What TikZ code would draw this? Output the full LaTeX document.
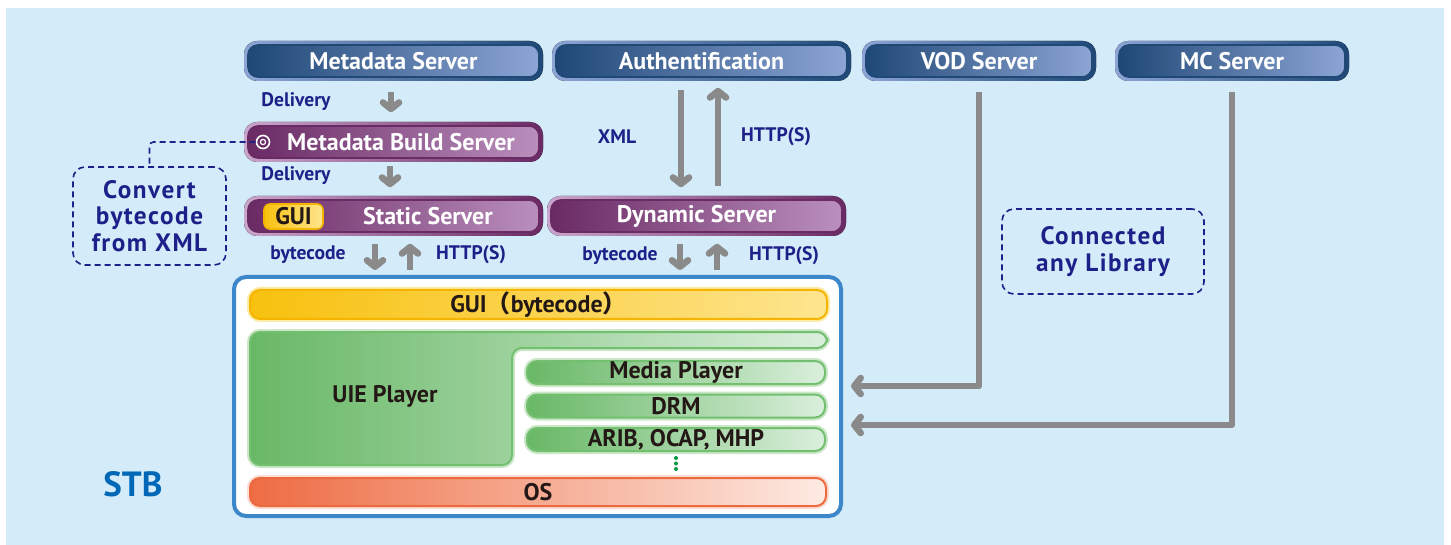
\documentclass[tikz,border=0pt]{standalone}
\usepackage{fontspec}
\setmainfont{PT Sans}
\newfontfamily\notefont[LetterSpace=6]{PT Sans}
\newfontfamily\cjk{Noto Sans CJK JP}
\usetikzlibrary{arrows.meta,backgrounds}

\definecolor{bgblue}{HTML}{D4EBF9}
\definecolor{navy}{HTML}{1D2088}
\definecolor{svDark}{HTML}{1F4876}
\definecolor{svLight}{HTML}{8CA5D5}
\definecolor{puDark}{HTML}{6A2A64}
\definecolor{puLight}{HTML}{BA8FBD}
\definecolor{puRing}{HTML}{C9A6CB}
\definecolor{flowgrey}{HTML}{8A8A8A}
\definecolor{stbblue}{HTML}{3B87C9}
\definecolor{stbtext}{HTML}{0068B7}
\definecolor{ink}{HTML}{231815}
\definecolor{guiL}{HTML}{F8C10E}
\definecolor{guiR}{HTML}{FEE58F}
\definecolor{guiLine}{HTML}{F4B400}
\definecolor{guiRing}{HTML}{FDEBA8}
\definecolor{grL}{HTML}{68B866}
\definecolor{grR}{HTML}{DAEFDC}
\definecolor{grLine}{HTML}{72C06F}
\definecolor{grRing}{HTML}{CBE7C8}
\definecolor{osL}{HTML}{EE6C43}
\definecolor{osR}{HTML}{FDEAE2}
\definecolor{osLine}{HTML}{EC6A40}
\definecolor{osRing}{HTML}{FBDDD1}
\definecolor{dotgreen}{HTML}{009944}

\tikzset{
  boxfont/.style={font=\bfseries\fontsize{12}{14}\selectfont},
  server/.style={boxfont, minimum width=145.5pt, minimum height=16pt, inner sep=0pt,
    rounded corners=5pt, draw=svDark, line width=0.8pt,
    left color=svDark, right color=svLight, text=white},
  smallserver/.style={server, minimum width=113pt},
  purplebox/.style={boxfont, minimum width=145.5pt, minimum height=16pt, inner sep=0pt,
    rounded corners=5pt, draw=puDark, line width=0.8pt,
    left color=puDark, right color=puLight, text=white},
  guitag/.style={boxfont, minimum width=29.5pt, minimum height=12.5pt, inner sep=0pt,
    rounded corners=3pt, draw=guiLine, line width=0.8pt,
    left color=guiL, right color=guiR, text=ink},
  lbl/.style={text=navy, inner sep=0pt, font=\bfseries\fontsize{9.8}{11}\selectfont},
  notebox/.style={draw=navy, line width=0.8pt, dash pattern=on 3pt off 2pt,
    rounded corners=6pt, align=center, text=navy, inner sep=0pt,
    font=\notefont\bfseries\fontsize{12.6}{13.25}\selectfont},
  noteline/.style={draw=navy, line width=0.8pt, dash pattern=on 3pt off 2pt, rounded corners=2pt},
  flow/.style={draw=flowgrey, line width=3.3pt, line join=round,
    -{Straight Barb[length=3.2pt, width=8pt, round]}},
  layer/.style={boxfont, inner sep=0pt, rounded corners=5pt, line width=1pt, text=ink},
  guibar/.style={layer, preaction={draw=guiRing, line width=3pt},
    draw=guiLine, left color=guiL, right color=guiR,
    minimum width=288.5pt, minimum height=14.5pt},
  modbar/.style={layer, preaction={draw=grRing, line width=3pt},
    draw=grLine, left color=grL, right color=grR,
    minimum width=149pt, minimum height=11.5pt},
  osbar/.style={layer, preaction={draw=osRing, line width=3pt},
    draw=osLine, left color=osL, right color=osR,
    minimum width=288pt, minimum height=14pt},
  uie/.style={rounded corners=5pt, preaction={draw=grRing, line width=3pt},
    draw=grLine, line width=1pt, left color=grL, right color=grR},
  stbbox/.style={draw=stbblue, line width=2pt, fill=white, rounded corners=6pt,
    minimum width=303.5pt, minimum height=119.5pt, inner sep=0pt}
}

\begin{document}
\begin{tikzpicture}[x=0.5pt, y=-0.5pt]
\useasboundingbox (0,0) rectangle (1451,545);
\begin{pgfonlayer}{background}
\fill[bgblue] (6,8) rectangle (1444,545);
\end{pgfonlayer}

% servers
\node[server] (ms) at (393.5,61) {Metadata Server};
\node[server] (au) at (701.5,61) {Authentification};
\node[smallserver] (vod) at (979,61) {VOD Server};
\node[smallserver] (mc) at (1232,61) {MC Server};

\node[purplebox] (mbs) at (393.5,142) {\hspace*{7.5pt}Metadata Build Server};
\node[purplebox] (ss) at (393.5,216) {\hspace*{34.5pt}Static Server};
\node[purplebox] (ds) at (696.5,216) {Dynamic Server};
\node[guitag] (guitag) at (293.5,216.5) {GUI};
\node[circle, draw=white, line width=0.8pt, fill=puDark, minimum size=6.5pt, inner sep=0pt,
  path picture={\draw[white, line width=0.6pt] (path picture bounding box.center) circle (1.3pt);}]
  (tgt) at (263,142) {};

\begin{pgfonlayer}{background}
\foreach \n in {ms,au,vod,mc}
  \fill[rounded corners=6.5pt, left color=svLight, right color=svDark]
    ([shift={(-1.6pt,1.6pt)}]\n.north west) rectangle ([shift={(1.6pt,-1.6pt)}]\n.south east);
\foreach \n in {mbs,ss,ds}
  \fill[rounded corners=6.5pt, left color=puRing, right color=puDark]
    ([shift={(-1.6pt,1.6pt)}]\n.north west) rectangle ([shift={(1.6pt,-1.6pt)}]\n.south east);
\end{pgfonlayer}

% notes
\node[notebox, minimum width=76.5pt, minimum height=49pt] (conv) at (149.5,216)
  {Convert\\bytecode\\from XML};
\node[notebox, minimum width=101pt, minimum height=42.5pt] (lib) at (1103,251.5)
  {Connected\\any Library};
\draw[noteline] (tgt.west) -| (conv.north);

% STB
\node[stbbox] (stb) at (537.5,396.5) {};
\node[text=stbtext, font=\bfseries\fontsize{17.5}{20}\selectfont] (stblabel) at (133,484) {STB};
\node[guibar] (gui) at (538.5,304.5) {GUI{\cjk （}bytecode{\cjk ）}};
\draw[uie] (250,332) -- (827,332) -- (827,348) -- (512,348) -- (512,465) -- (250,465) -- cycle;
\node[boxfont, text=ink] (uietxt) at (385,396) {UIE Player};
\node[modbar] (mp) at (676,372.5) {Media Player};
\node[modbar] (drm) at (676,406) {DRM};
\node[modbar] (arib) at (676,439.5) {ARIB, OCAP, MHP};
\foreach \y in {458,463.5,469}
  \fill[dotgreen] (676,\y) circle[radius=1pt];
\node[osbar] (os) at (538,492) {OS};

% flows
\draw[flow, shorten <=7pt, shorten >=6.5pt] ([xshift=-1.25pt]ms.south) -- ([xshift=-1.25pt]mbs.north);
\node[lbl] (deliv1) at (296,102) {Delivery};
\draw[flow, shorten <=3.5pt, shorten >=6pt] ([xshift=-1.75pt]mbs.south) -- ([xshift=-1.75pt]ss.north);
\node[lbl] (deliv2) at (296,176) {Delivery};

\draw[flow, shorten <=5.5pt, shorten >=2.5pt] ([xshift=-9.25pt]ss.south) -- ([xshift=-9.25pt]ss.south |- stb.north);
\draw[flow, shorten <=2.5pt, shorten >=5.5pt] ([xshift=8.25pt]ss.south |- stb.north) -- ([xshift=8.25pt]ss.south);
\node[lbl] (bc1) at (308,255) {bytecode};
\node[lbl] (http1) at (471,255) {HTTP(S)};

\draw[flow, shorten <=5.5pt, shorten >=2.5pt] ([xshift=-8.25pt]ds.south) -- ([xshift=-8.25pt]ds.south |- stb.north);
\draw[flow, shorten <=2.5pt, shorten >=5.5pt] ([xshift=10.25pt]ds.south |- stb.north) -- ([xshift=10.25pt]ds.south);
\node[lbl] (bc2) at (620,256) {bytecode};
\node[lbl] (http2) at (784,256) {HTTP(S)};

\draw[flow, shorten <=6pt, shorten >=6pt] ([xshift=-10.25pt]au.south) -- ([xshift=-10.25pt]au.south |- ds.north);
\draw[flow, shorten <=6.5pt, shorten >=5pt] ([xshift=8.25pt]au.south |- ds.north) -- ([xshift=8.25pt]au.south);
\node[lbl] (xml) at (617,137) {XML};
\node[lbl] (http3) at (776,137) {HTTP(S)};

\draw[flow, shorten <=7pt, shorten >=4pt] (vod.south) |- ([yshift=5.25pt]stb.east);
\draw[flow, shorten <=7pt, shorten >=4pt] (mc.south) |- ([yshift=-14.25pt]stb.east);
\end{tikzpicture}
\end{document}
